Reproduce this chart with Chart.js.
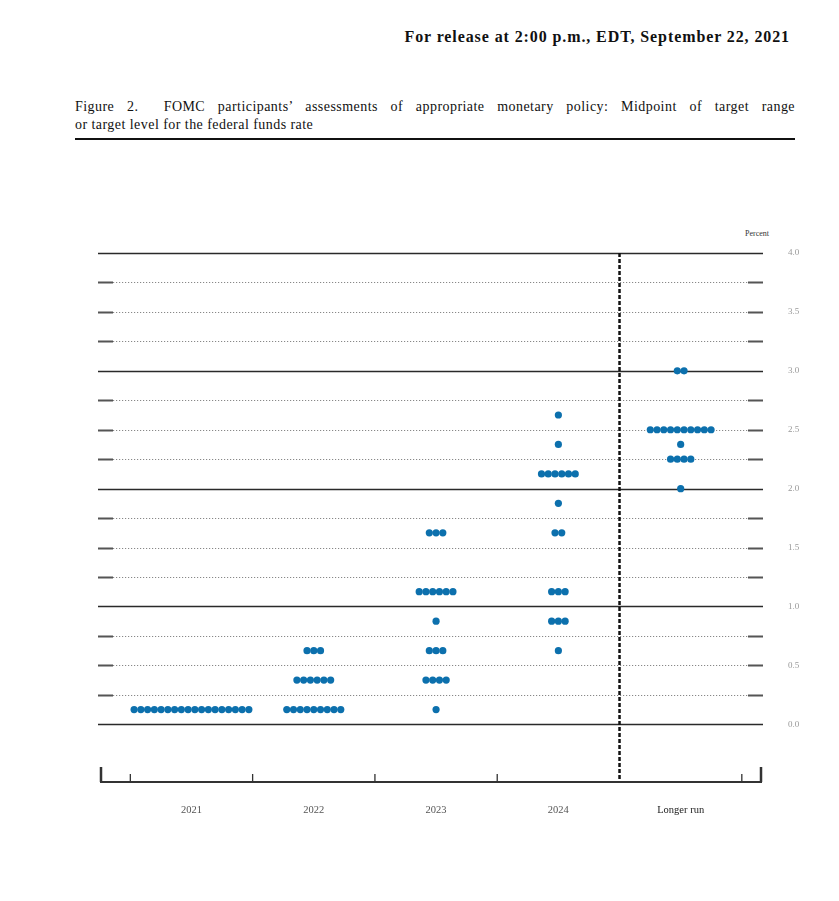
<!DOCTYPE html>
<html lang="en">
<head>
  <meta charset="UTF-8">
  <title>FOMC dot plot - September 2021</title>
  <style>
    html, body { margin: 0; padding: 0; background: #fff; }
    body { position: relative; width: 839px; height: 901px; overflow: hidden; font-family: "Liberation Serif", "DejaVu Serif", serif; color: #111; }
    #release { position: absolute; right: 49px; top: 28px; font-weight: bold; font-size: 16px; letter-spacing: 0.9px; }
    #caption { position: absolute; left: 75px; top: 98px; width: 720px; font-size: 14px; line-height: 18px; letter-spacing: 0.45px; }
    #caption .l1 { white-space: nowrap; text-align: justify; text-align-last: justify; }
    #rule { position: absolute; left: 75px; top: 138px; width: 720px; height: 2px; background: #111; }
    #percent { position: absolute; left: 745px; top: 229px; font-size: 8px; color: #333; }
    #chart { position: absolute; left: 0; top: 0; }
  </style>
</head>
<body>
  <div id="release">For release at 2:00 p.m., EDT, September 22, 2021</div>
  <div id="caption">
    <div class="l1">Figure 2.&nbsp; FOMC participants’ assessments of appropriate monetary policy: Midpoint of target range</div>
    <div>or target level for the federal funds rate</div>
  </div>
  <div id="rule"></div>
  <div id="percent">Percent</div>
  <canvas id="chart" width="839" height="901"></canvas>

  <script src="https://cdn.jsdelivr.net/npm/chart.js"></script>
  <script>
    // projection periods
    const categories = ['2021', '2022', '2023', '2024', 'Longer run'];
    // midpoint levels with at least one participant, per period
    const rateLevels = [
      [0.125],
      [0.125, 0.375, 0.625],
      [0.125, 0.375, 0.625, 0.875, 1.125, 1.625],
      [0.625, 0.875, 1.125, 1.625, 1.875, 2.125, 2.375, 2.625],
      [2.0, 2.25, 2.375, 2.5, 3.0]
    ];
    // number of participants at each of those levels
    const participantCounts = [
      [18],
      [9, 6, 3],
      [1, 4, 3, 1, 6, 3],
      [1, 3, 3, 2, 1, 6, 1, 1],
      [1, 4, 1, 10, 2]
    ];
    const yTickValues = [0.0, 0.5, 1.0, 1.5, 2.0, 2.5, 3.0, 3.5, 4.0];

    const DOT = '#0c70ad';
    const dotStep = 0.0552; // horizontal spacing of dots, in category units

    const points = [];
    rateLevels.forEach((levels, c) => {
      levels.forEach((lvl, j) => {
        const n = participantCounts[c][j];
        for (let k = 0; k < n; k++) {
          points.push({ x: c + (k - (n - 1) / 2) * dotStep, y: lvl });
        }
      });
    });

    // reference lines, separator and bottom axis, placed through the scales
    const fomcLines = {
      id: 'fomcLines',
      beforeDatasetsDraw(chart) {
        const { ctx, chartArea, scales } = chart;
        const xs = scales.x, ys = scales.y;
        const left = chartArea.left - 2, right = chartArea.right + 1;
        ctx.save();
        for (let v = 0; v <= 4; v += 0.25) {
          const y = Math.round(ys.getPixelForValue(v)) + 0.5;
          if (v % 1 === 0) {
            ctx.setLineDash([]);
            ctx.strokeStyle = '#2a2a2a';
            ctx.lineWidth = 1.6;
            ctx.beginPath(); ctx.moveTo(left, y); ctx.lineTo(right, y); ctx.stroke();
          } else {
            ctx.setLineDash([1.2, 1.8]);
            ctx.strokeStyle = '#888';
            ctx.lineWidth = 1;
            ctx.beginPath(); ctx.moveTo(left + 15, y); ctx.lineTo(right - 15, y); ctx.stroke();
            ctx.setLineDash([]);
            ctx.strokeStyle = '#555';
            ctx.lineWidth = 2;
            ctx.beginPath();
            ctx.moveTo(left, y); ctx.lineTo(left + 15, y);
            ctx.moveTo(right - 15, y); ctx.lineTo(right, y);
            ctx.stroke();
          }
        }
        // separator before longer run
        const sx = xs.getPixelForValue(3.5);
        ctx.setLineDash([4, 2]);
        ctx.strokeStyle = '#111';
        ctx.lineWidth = 2.5;
        ctx.beginPath(); ctx.moveTo(sx, chartArea.top); ctx.lineTo(sx, chartArea.bottom); ctx.stroke();
        // bottom axis
        ctx.setLineDash([]);
        const by = chartArea.bottom;
        ctx.strokeStyle = '#333';
        ctx.lineWidth = 2;
        ctx.beginPath(); ctx.moveTo(chartArea.left, by); ctx.lineTo(chartArea.right, by); ctx.stroke();
        ctx.lineWidth = 2.5;
        ctx.beginPath();
        ctx.moveTo(chartArea.left + 1, by); ctx.lineTo(chartArea.left + 1, by - 15);
        ctx.moveTo(chartArea.right - 1, by); ctx.lineTo(chartArea.right - 1, by - 15);
        ctx.stroke();
        ctx.lineWidth = 1.3;
        ctx.beginPath();
        [-0.5, 0.5, 1.5, 2.5, 4.5].forEach(v => {
          const tx = xs.getPixelForValue(v);
          ctx.moveTo(tx, by); ctx.lineTo(tx, by - 8);
        });
        ctx.stroke();
        ctx.restore();
      }
    };

    new Chart(document.getElementById('chart'), {
      type: 'scatter',
      data: {
        datasets: [{
          data: points,
          backgroundColor: DOT,
          borderWidth: 0,
          pointRadius: 3.6,
          pointHoverRadius: 3.6
        }]
      },
      options: {
        responsive: false,
        animation: false,
        layout: { padding: { left: 100, top: 253, right: 27, bottom: 69 } },
        plugins: { legend: { display: false }, tooltip: { enabled: false } },
        scales: {
          x: {
            type: 'linear',
            min: -0.748,
            max: 4.665,
            afterBuildTicks: s => { s.ticks = categories.map((_, i) => ({ value: i })); },
            afterFit: s => { s.height = 50; },
            grid: { display: false, drawTicks: false },
            border: { display: false },
            ticks: {
              padding: 22,
              autoSkip: false,
              maxRotation: 0,
              callback: v => categories[v],
              color: c => (c.index === 4 ? '#222' : '#555'),
              font: { family: 'Liberation Serif', size: 10.5 }
            }
          },
          y: {
            position: 'right',
            min: -0.49,
            max: 4,
            afterBuildTicks: s => { s.ticks = yTickValues.map(v => ({ value: v })); },
            afterFit: s => { s.width = 50; },
            grid: { display: false, drawTicks: false },
            border: { display: false },
            ticks: {
              padding: 26,
              callback: v => v.toFixed(1),
              color: '#999',
              font: { family: 'Liberation Serif', size: 9 }
            }
          }
        }
      },
      plugins: [fomcLines]
    });
  </script>
</body>
</html>
